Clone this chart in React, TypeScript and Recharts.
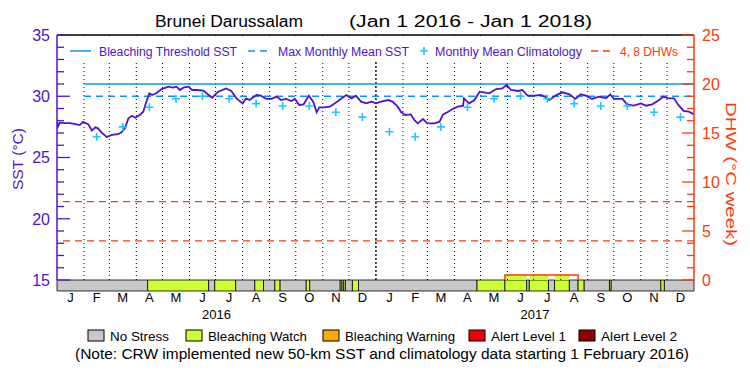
import React from "react";
import { ComposedChart, Line, XAxis, YAxis, ReferenceLine, ReferenceArea } from "recharts";

const PURPLE = "#5014c8";
const BLUE = "#0a96ff";
const CYAN = "#1ec8ff";
const RED = "#ff3a0a";
const FONT = "'Liberation Sans', Arial, sans-serif";

// days since Jan 1 2016
const sstDays = [
  0, 1, 3, 9, 15, 21, 26, 30, 36, 40, 44, 47, 51, 57, 63, 70, 74, 78, 82, 86, 90, 95, 99, 102, 106, 109,
  114, 120, 128, 133, 137, 141, 145, 151, 155, 160, 168, 174, 178, 183, 185, 194, 200, 206, 213, 217, 221,
  229, 234, 240, 246, 252, 257, 263, 269, 273, 278, 283, 289, 294, 298, 301, 307, 313, 319, 324, 332, 338,
  343, 349, 355, 361, 366, 372, 380, 385, 391, 395, 400, 406, 410, 414, 420, 425, 433, 439, 443, 448, 454,
  460, 466, 467, 473, 479, 485, 490, 496, 504, 511, 516, 521, 529, 534, 540, 548, 555, 560, 565, 572, 580,
  588, 595, 601, 607, 614, 622, 630, 635, 639, 649, 654, 662, 670, 676, 683, 691, 696, 702, 708, 713, 719,
  725, 731,
];
const sstValues = [
  27.92, 27.5, 27.84, 27.8, 27.8, 27.73, 27.65, 27.92, 27.7, 27.2, 27.46, 27.38, 27.05, 26.67, 26.84, 26.9,
  27.05, 27.38, 28.2, 28.41, 28.25, 28.47, 28.74, 29.42, 30.24, 30.1, 30.24, 30.59, 30.78, 30.7, 30.78, 30.51,
  30.7, 30.78, 30.51, 30.51, 30.46, 30.1, 29.88, 30.24, 30.37, 30.64, 30.43, 29.83, 29.42, 29.83, 29.69, 30.1,
  30.05, 29.78, 29.78, 29.97, 29.69, 29.78, 29.61, 29.78, 29.29, 29.34, 30.05, 29.56, 28.69, 29.1, 29.1, 29.15,
  29.42, 29.69, 30.1, 29.83, 30.05, 29.56, 29.42, 29.56, 29.42, 29.56, 29.69, 29.56, 29.15, 28.69, 28.47,
  28.52, 28.06, 27.79, 28.14, 27.79, 27.79, 27.92, 28.52, 28.69, 28.96, 29.15, 29.23, 29.83, 29.42, 29.69,
  30.37, 30.32, 30.24, 30.59, 30.64, 30.92, 30.51, 30.43, 30.51, 30.05, 30.05, 30.1, 29.97, 29.69, 30.05,
  30.32, 30.16, 29.78, 30.16, 30.05, 29.78, 29.97, 29.83, 30.16, 29.78, 29.78, 29.34, 29.23, 29.42, 29.23,
  29.34, 29.69, 29.97, 29.83, 29.83, 29.29, 28.8, 28.74, 28.52,
];
// monthly mean climatology, Feb 2016 .. Dec 2017
const climValues = [
  26.7, 27.5, 29.1, 29.8, 30.0, 29.8, 29.4, 29.2, 29.2, 28.7, 28.3,
  27.1, 26.7, 27.5, 29.1, 29.8, 30.0, 29.8, 29.4, 29.2, 29.2, 28.7, 28.3,
];
const bleachingThreshold = 31.0;
const maxMonthlyMean = 30.0;
const dataStartDay = 31;
const lastDay = 731;
const dhwLevels = [4, 8];
const dhwDays = [514, 514, 598, 598];
const dhwValues = [0, 0.5, 0.5, 0];

const statusStart = [0, 104, 174, 181, 205, 227, 237, 250, 256, 286, 290, 325, 327, 329, 331, 339, 346, 482, 514, 539, 542, 564, 571, 588, 598, 605, 634, 636, 693, 697];
const statusEnd = [104, 174, 181, 205, 227, 237, 250, 256, 286, 290, 325, 327, 329, 331, 339, 346, 482, 514, 539, 542, 564, 571, 588, 598, 605, 634, 636, 693, 697, 731];
const statusLevel = [0, 1, 0, 1, 0, 1, 0, 1, 0, 1, 0, 1, 0, 1, 0, 1, 0, 1, 1, 0, 1, 0, 1, 0, 1, 0, 1, 0, 1, 0];
const statusNames = ["No Stress", "Bleaching Watch", "Bleaching Warning", "Alert Level 1", "Alert Level 2"];
const statusColors = ["#c8c8c8", "#ccff33", "#ffaa00", "#f00000", "#960000"];

const monthLetters = ["J", "F", "M", "A", "M", "J", "J", "A", "S", "O", "N", "D"];
const years = [2016, 2017];

const START = Date.UTC(2016, 0, 1);
const dayOf = (y: number, m: number) => Math.round((Date.UTC(y, m, 1) - START) / 86400000);
const monthStarts = Array.from({ length: 25 }, (_, i) => dayOf(2016, i));
const monthMids = monthStarts.slice(0, 24).map((s, i) => (s + monthStarts[i + 1]) / 2);
const yearMids = years.map((y) => (dayOf(y, 0) + dayOf(y + 1, 0)) / 2);

const sstData = sstDays.map((d, i) => ({ day: d, sst: sstValues[i] }));
const climData = climValues.map((v, i) => ({ day: monthMids[i + 1], clim: v }));
const thresholdData = [dataStartDay, lastDay].map((d) => ({ day: d, v: bleachingThreshold }));
const mmmData = [dataStartDay, lastDay].map((d) => ({ day: d, v: maxMonthlyMean }));
const dhwData = dhwDays.map((d, i) => ({ day: d, dhw: dhwValues[i] }));
const segments = statusStart.map((s, i) => ({ start: s, end: statusEnd[i], level: statusLevel[i] }));
const dhwStart = dhwDays[0];
const dhwEnd = dhwDays[dhwDays.length - 1];
const dhwPeak = Math.max(...dhwValues);
const dhwFills = segments
  .filter((s) => s.level > 0 && s.end > dhwStart && s.start < dhwEnd)
  .map((s) => ({ ...s, start: Math.max(s.start, dhwStart), end: Math.min(s.end, dhwEnd) }));

const DHW_MAX = 25;
const PLOT_H = 245;
const STRIP_PX = 11;
const stripDepth = (STRIP_PX * DHW_MAX) / PLOT_H; // status strip hangs below the DHW zero line

const sstTicks = Array.from({ length: 21 }, (_, i) => 15 + i);
const dhwTicks = Array.from({ length: 21 }, (_, i) => i * 1.25);

const LeftTick = (p: any) => {
  const v = p.payload.value;
  const major = v % 5 === 0;
  return (
    <g>
      <line x1={p.x} x2={p.x + (major ? 13 : 7)} y1={p.y} y2={p.y} stroke={PURPLE} strokeWidth={1.3} />
      {major && (
        <text x={p.x - 7} y={p.y} dy="0.36em" textAnchor="end" fill={PURPLE} fontSize={16} fontFamily={FONT}>
          {v}
        </text>
      )}
    </g>
  );
};

const RightTick = (p: any) => {
  const v = p.payload.value;
  const major = v % 5 === 0;
  return (
    <g>
      <line x1={p.x} x2={p.x - (major ? 12 : 7)} y1={p.y} y2={p.y} stroke={RED} strokeWidth={1.3} />
      {major && (
        <text x={p.x + 8} y={p.y} dy="0.36em" textAnchor="start" fill={RED} fontSize={16} fontFamily={FONT}>
          {v}
        </text>
      )}
    </g>
  );
};

const Cross = (p: any) =>
  p.cx == null ? (
    <g key={p.key} />
  ) : (
    <path key={p.key} d={`M${p.cx - 4},${p.cy}h8M${p.cx},${p.cy - 4}v8`} stroke={CYAN} strokeWidth={1.6} fill="none" />
  );

const legendX = [88, 186, 323, 469, 579];
const legendW = [59, 99, 110, 75, 76];

export default function App() {
  return (
    <div style={{ position: "absolute", left: 0, top: 0, width: 750, height: 375, background: "#fff" }}>
      <div style={{ position: "absolute", left: 0, top: 0 }}>
        <ComposedChart width={750} height={375} margin={{ top: 35, right: 0, bottom: 48, left: 0 }}>
          <XAxis
            type="number"
            dataKey="day"
            domain={[0, lastDay]}
            allowDataOverflow
            ticks={monthMids}
            interval={0}
            tickFormatter={(v: number) => monthLetters[monthMids.indexOf(v) % 12]}
            axisLine={false}
            tickLine={false}
            tickSize={0}
            tickMargin={13}
            height={29}
            tick={{ fill: "#000", fontSize: 13, fontFamily: FONT }}
          />
          <XAxis
            xAxisId="yr"
            type="number"
            dataKey="day"
            domain={[0, lastDay]}
            allowDataOverflow
            ticks={yearMids}
            interval={0}
            tickFormatter={(v: number) => String(years[yearMids.indexOf(v)])}
            axisLine={false}
            tickLine={false}
            tickSize={0}
            tickMargin={1}
            height={18}
            tick={{ fill: "#000", fontSize: 13, fontFamily: FONT }}
          />
          <YAxis
            yAxisId="sst"
            domain={[15, 35]}
            ticks={sstTicks}
            interval={0}
            width={57}
            axisLine={{ stroke: PURPLE, strokeWidth: 1.5 }}
            tickLine={false}
            tickSize={0}
            tickMargin={0}
            tick={(p: any) => <LeftTick {...p} />}
          />
          <YAxis
            yAxisId="dhw"
            orientation="right"
            domain={[0, DHW_MAX]}
            ticks={dhwTicks}
            interval={0}
            width={56}
            axisLine={{ stroke: RED, strokeWidth: 1.5 }}
            tickLine={false}
            tickSize={0}
            tickMargin={0}
            tick={(p: any) => <RightTick {...p} />}
          />
          <ReferenceLine yAxisId="sst" y={35} stroke="#000" strokeWidth={1.5} />
          {monthStarts.slice(1, 24).map((d, i) => (
            <ReferenceLine
              key={d}
              yAxisId="sst"
              x={d}
              stroke="#000"
              strokeWidth={i === 11 ? 1.4 : 1}
              strokeDasharray={i === 11 ? "2 2" : "1 3"}
            />
          ))}
          {dhwLevels.map((v) => (
            <ReferenceLine key={v} yAxisId="dhw" y={v} stroke={RED} strokeWidth={1.3} strokeDasharray="7 5" />
          ))}
          {segments.map((s) => (
            <ReferenceArea
              key={"s" + s.start}
              yAxisId="dhw"
              x1={s.start}
              x2={s.end}
              y1={-stripDepth}
              y2={0}
              ifOverflow="visible"
              fill={statusColors[s.level]}
              fillOpacity={1}
              stroke="#000"
              strokeWidth={0.8}
            />
          ))}
          {dhwFills.map((s) => (
            <ReferenceArea
              key={"f" + s.start}
              yAxisId="dhw"
              x1={s.start}
              x2={s.end}
              y1={0}
              y2={dhwPeak}
              fill={statusColors[s.level]}
              fillOpacity={1}
              stroke="none"
            />
          ))}
          <Line yAxisId="dhw" data={dhwData} dataKey="dhw" stroke={RED} strokeWidth={1.5} dot={false} isAnimationActive={false} />
          <Line yAxisId="sst" data={thresholdData} dataKey="v" stroke={BLUE} strokeWidth={1.5} dot={false} isAnimationActive={false} />
          <Line
            yAxisId="sst"
            data={mmmData}
            dataKey="v"
            stroke={BLUE}
            strokeWidth={1.5}
            strokeDasharray="7 5"
            dot={false}
            isAnimationActive={false}
          />
          <Line
            yAxisId="sst"
            data={climData}
            dataKey="clim"
            stroke="none"
            dot={Cross}
            activeDot={false}
            isAnimationActive={false}
          />
          <Line yAxisId="sst" data={sstData} dataKey="sst" stroke={PURPLE} strokeWidth={1.8} dot={false} isAnimationActive={false} />
        </ComposedChart>
      </div>

      <svg width={750} height={375} style={{ position: "absolute", left: 0, top: 0 }} fontFamily={FONT}>
        <text x={155} y={27} fontSize={16} fill="#000" textLength={148} lengthAdjust="spacingAndGlyphs">
          Brunei Darussalam
        </text>
        <text x={349} y={27} fontSize={16} fill="#000" textLength={243} lengthAdjust="spacingAndGlyphs">
          (Jan 1 2016 - Jan 1 2018)
        </text>

        <rect x={64} y={37} width={622} height={25} fill="#fff" />
        <line x1={70} x2={91} y1={51} y2={51} stroke={BLUE} strokeWidth={1.5} />
        <text x={99} y={55.5} fontSize={12} fill={PURPLE} textLength={138} lengthAdjust="spacingAndGlyphs">
          Bleaching Threshold SST
        </text>
        <line x1={248} x2={272} y1={51} y2={51} stroke={BLUE} strokeWidth={1.5} strokeDasharray="7 5" />
        <text x={278} y={55.5} fontSize={12} fill={PURPLE} textLength={131} lengthAdjust="spacingAndGlyphs">
          Max Monthly Mean SST
        </text>
        <path d="M420,51h8M424,47v8" stroke={CYAN} strokeWidth={1.6} />
        <text x={435} y={55.5} fontSize={12} fill={PURPLE} textLength={147} lengthAdjust="spacingAndGlyphs">
          Monthly Mean Climatology
        </text>
        <line x1={591} x2={615} y1={51} y2={51} stroke={RED} strokeWidth={1.3} strokeDasharray="7 5" />
        <text x={620} y={55.5} fontSize={12} fill={RED} textLength={58} lengthAdjust="spacingAndGlyphs">
          4, 8 DHWs
        </text>

        <text
          transform="translate(18,159) rotate(-90)"
          textAnchor="middle"
          dy="0.36em"
          fontSize={15}
          fill={PURPLE}
          textLength={62}
          lengthAdjust="spacingAndGlyphs"
        >
          SST (°C)
        </text>
        <text
          transform="translate(731,174) rotate(90)"
          textAnchor="middle"
          dy="0.36em"
          fontSize={15}
          fill={RED}
          textLength={144}
          lengthAdjust="spacingAndGlyphs"
        >
          DHW (°C week)
        </text>

        {statusNames.map((name, i) => (
          <g key={name}>
            <rect x={legendX[i]} y={330} width={16} height={11} fill={statusColors[i]} stroke="#000" strokeWidth={1} />
            <text
              x={legendX[i] + 22}
              y={341}
              fontSize={13}
              fill="#000"
              textLength={legendW[i]}
              lengthAdjust="spacingAndGlyphs"
            >
              {name}
            </text>
          </g>
        ))}
        <text x={75} y={359} fontSize={14} fill="#000" textLength={614} lengthAdjust="spacingAndGlyphs">
          (Note: CRW implemented new 50-km SST and climatology data starting 1 February 2016)
        </text>
      </svg>
    </div>
  );
}
